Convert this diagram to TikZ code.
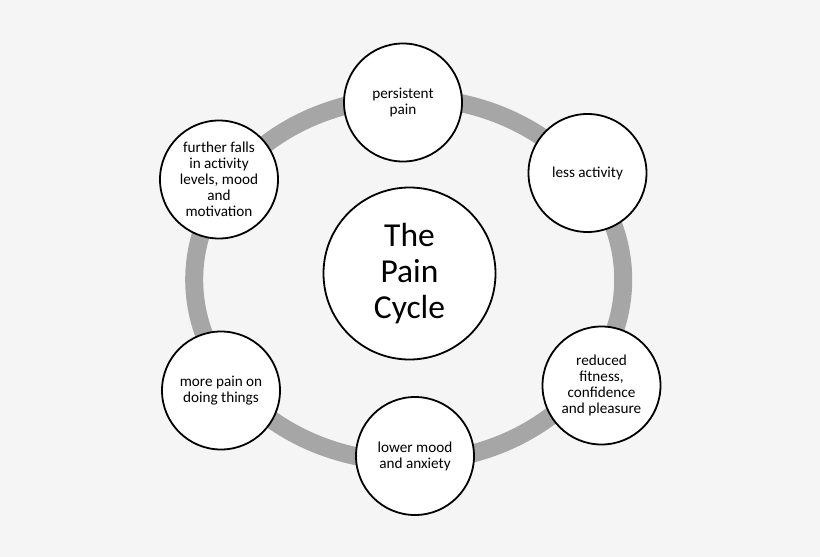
\documentclass[tikz,border=0pt]{standalone}
\usepackage{fontspec}
\setmainfont{Carlito}
\definecolor{bg}{HTML}{F5F5F5}
\definecolor{ringgray}{HTML}{A6A6A6}
\begin{document}
\begin{tikzpicture}[x=1pt,y=-1pt,
  stage/.style={circle,draw=black,line width=1.8pt,fill=white,minimum size=118pt,inner sep=0pt,align=center,font=\fontsize{15.2}{16}\selectfont},
  hub/.style={circle,draw=black,line width=1.8pt,fill=white,minimum size=172pt,inner sep=0pt,align=center,font=\fontsize{33.5}{36}\selectfont}]
\fill[bg] (0,0) rectangle (820,557);
\useasboundingbox (0,0) rectangle (820,557);
\draw[ringgray,line width=18pt] (408.7,279.7) ellipse [x radius=214.5pt, y radius=182pt];
\node[hub] (c) at (409.5,273.5) {The\\Pain\\Cycle};
\node[stage] (s1) at (403,102.5) {persistent\\pain};
\node[stage] (s2) at (587.5,173) {less activity};
\node[stage] (s3) at (601.5,385.5) {reduced\\fitness,\\confidence\\and pleasure};
\node[stage] (s4) at (415,456) {lower mood\\and anxiety};
\node[stage] (s5) at (221,390.5) {more pain on\\doing things};
\node[stage] (s6) at (219,179.5) {further falls\\in activity\\levels, mood\\and\\motivation};
\end{tikzpicture}
\end{document}
